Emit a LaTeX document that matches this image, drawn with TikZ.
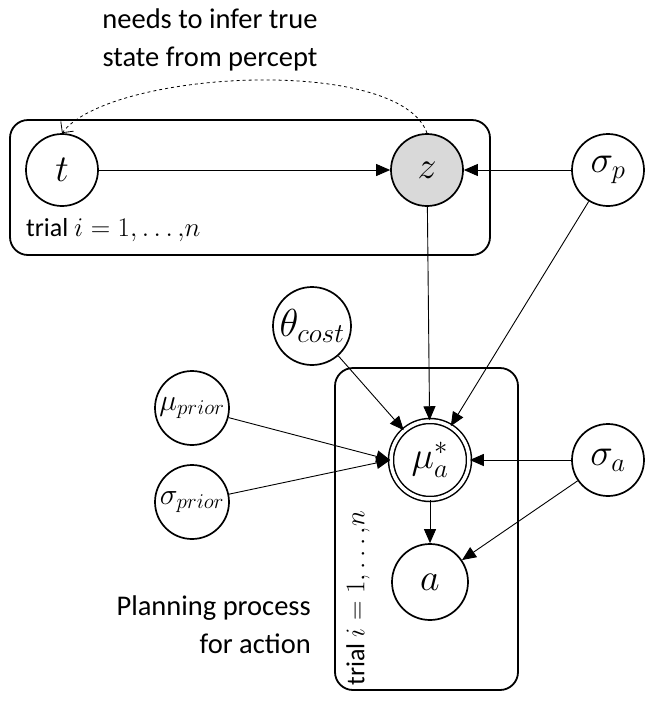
\RequirePackage{fix-cm}
\documentclass[tikz,border=0pt]{standalone}
\usepackage{fontspec}
\setmainfont{Carlito}
\usetikzlibrary{arrows.meta}
\definecolor{obsgray}{HTML}{D9D9D9}
\newcommand{\trialrange}{trial {\fontsize{27}{27}\selectfont$i=1{,}\ldots{,}n$}}
\begin{document}
\begin{tikzpicture}[x=1pt,y=-1pt,
  var/.style={circle,draw,line width=1.7pt,minimum size=72pt,inner sep=0pt,
              font=\fontsize{38}{38}\selectfont},
  plate/.style={draw,line width=1.8pt,rounded corners=18pt},
  edge/.style={line width=0.9pt,-{Triangle[length=14pt,width=12pt]}},
  lbl/.style={inner sep=0pt,font=\fontsize{28.5}{38}\selectfont}]
\useasboundingbox (0,0) rectangle (645,702);

% plates
\draw[plate] (10,120) rectangle (490,255);
\draw[plate] (335,368) rectangle (518,690);

% variables
\node[var] (t) at (62,170) {$t$};
\node[var,fill=obsgray] (z) at (427,170) {$z$};
\node[var] (sp) at (608,170) {$\sigma_p$};
\node[var,minimum size=78pt,font=\fontsize{39}{39}\selectfont] (th) at (312,326) {$\theta_{cost}$};
\node[var,minimum size=74pt,font=\fontsize{30}{30}\selectfont] (mp) at (192,408) {$\mu_{prior}$};
\node[var,minimum size=74pt,font=\fontsize{30}{30}\selectfont] (spr) at (192,502) {$\sigma_{prior}$};
\node[var,minimum size=78pt,double,double distance=3.5pt,line width=1.5pt] (mu) at (430,460) {$\mu_a^*$};
\node[var] (sa) at (608,460) {$\sigma_a$};
\node[var,minimum size=76pt] (a) at (430,582) {$a$};

% labels
\node[lbl,align=center] (note) at (210,40) {needs to infer true\\state from percept};
\node[lbl,anchor=west,font=\fontsize{26}{30}\selectfont] (tr1) at (26,230) {\trialrange};
\node[lbl,rotate=90,font=\fontsize{26}{30}\selectfont] (tr2) at (358,598) {\trialrange};
\node[lbl,align=right,anchor=east] (plan) at (311,625) {Planning process\\for action};

% edges
\draw[edge] (t) -- (z);
\draw[edge] (sp) -- (z);
\draw[edge] (z) -- (mu);
\draw[edge] (sp) -- (mu);
\draw[edge] (th) -- (mu);
\draw[edge] (mp) -- (mu.west);
\draw[edge] (spr) -- (mu.west);
\draw[edge] (sa) -- (mu);
\draw[edge] (mu) -- (a);
\draw[edge] (sa) -- (a);
\draw[dashed,line width=0.8pt,-{Straight Barb[length=8pt,width=16pt]}]
  (z.north) .. controls (400,55) and (110,70) .. (t.north);
\end{tikzpicture}
\end{document}
